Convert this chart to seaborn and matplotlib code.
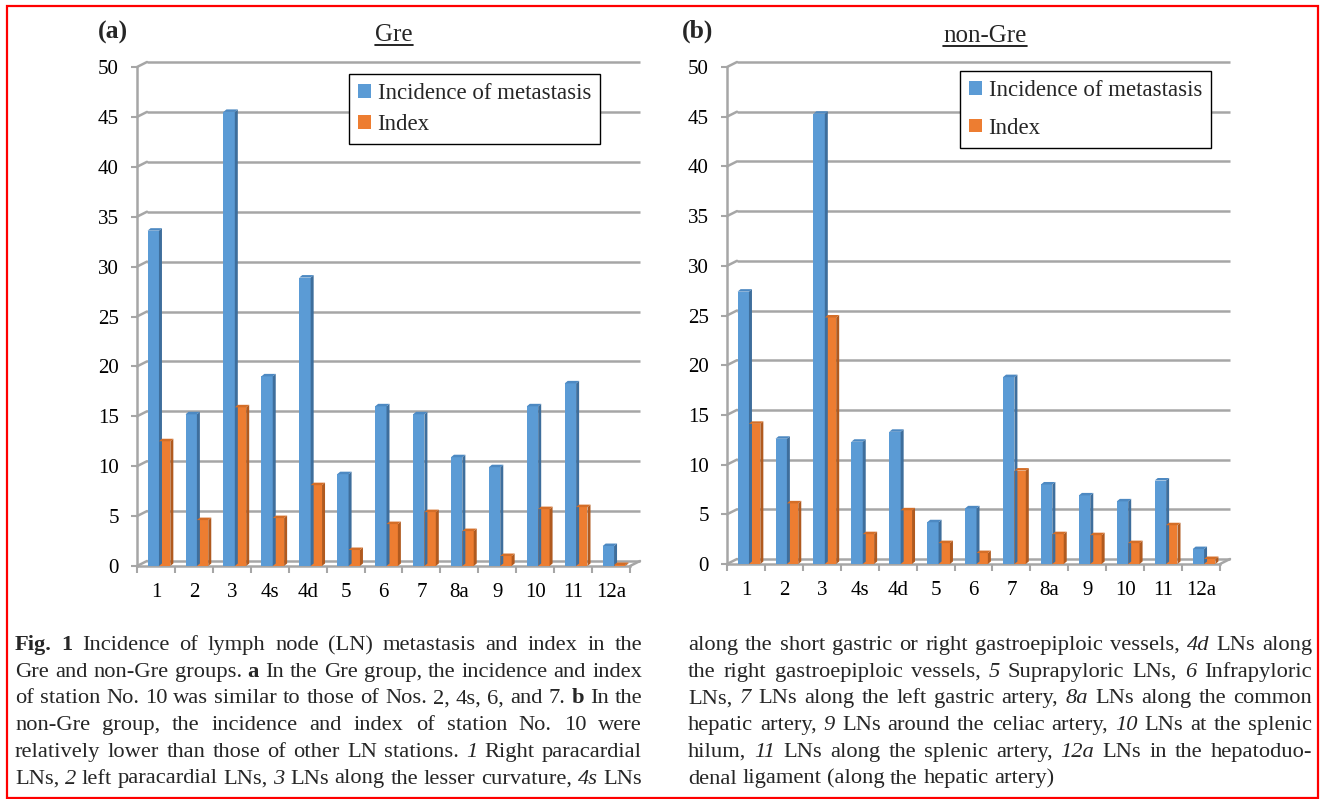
import numpy as np
import pandas as pd
import matplotlib
matplotlib.use("Agg")
import matplotlib.pyplot as plt
import seaborn as sns
from matplotlib.patches import Polygon, Rectangle, Patch
from matplotlib.lines import Line2D

# ---------------- data ----------------
stations = ["1", "2", "3", "4s", "4d", "5", "6", "7", "8a", "9", "10", "11", "12a"]
series_names = ["Incidence of metastasis", "Index"]
gre_incidence = [33.6, 15.2, 45.5, 19.0, 28.9, 9.2, 16.0, 15.2, 10.9, 9.9, 16.0, 18.3, 2.0]
gre_index = [12.5, 4.6, 15.9, 4.8, 8.1, 1.6, 4.2, 5.4, 3.5, 1.0, 5.7, 5.9, 0.1]
nongre_incidence = [27.4, 12.6, 45.3, 12.3, 13.3, 4.2, 5.6, 18.8, 8.0, 6.9, 6.3, 8.4, 1.5]
nongre_index = [14.1, 6.1, 24.8, 3.0, 5.4, 2.1, 1.1, 9.4, 3.0, 2.9, 2.1, 3.9, 0.5]
yticks = [0, 5, 10, 15, 20, 25, 30, 35, 40, 45, 50]
panel_letters = ["(a)", "(b)"]
panel_titles = ["Gre", "non-Gre"]

caption_left = [
    "*Fig.* *1* Incidence of lymph node (LN) metastasis and index in the",
    "Gre and non-Gre groups. *a* In the Gre group, the incidence and index",
    "of station No. 10 was similar to those of Nos. 2, 4s, 6, and 7. *b* In the",
    "non-Gre group, the incidence and index of station No. 10 were",
    "relatively lower than those of other LN stations. _1_ Right paracardial",
    "LNs, _2_ left paracardial LNs, _3_ LNs along the lesser curvature, _4s_ LNs",
]
caption_right = [
    "along the short gastric or right gastroepiploic vessels, _4d_ LNs along",
    "the right gastroepiploic vessels, _5_ Suprapyloric LNs, _6_ Infrapyloric",
    "LNs, _7_ LNs along the left gastric artery, _8a_ LNs along the common",
    "hepatic artery, _9_ LNs around the celiac artery, _10_ LNs at the splenic",
    "hilum, _11_ LNs along the splenic artery, _12a_ LNs in the hepatoduo-",
    "denal ligament (along the hepatic artery)",
]

# ---------------- style ----------------
sns.set_style("white")
plt.rcParams["font.family"] = ["Liberation Serif", "DejaVu Serif"]

BLUE, ORANGE = "#5B9BD5", "#ED7D31"
SIDE = ["#3E6E9C", "#B05A1F"]
TOP = ["#4D89C2", "#D46E28"]
GRAY = "#A6A6A6"

W, H = 1321, 799
fig = plt.figure(figsize=(W / 100, H / 100), dpi=100)


def px_axes(left, top, right, bottom):
    return fig.add_axes([left / W, 1 - bottom / H, (right - left) / W, (bottom - top) / H])


axes = [px_axes(137, 67, 630, 566), px_axes(727, 67, 1220, 564)]
data = [(gre_incidence, gre_index), (nongre_incidence, nongre_index)]
legend_pos = [(349, 74), (960, 71)]
legend_ls = [0.42, 0.72]

for k, ax in enumerate(axes):
    inc, idx = data[k]
    df = pd.DataFrame({
        "station": stations * 2,
        "value": list(inc) + list(idx),
        "series": [series_names[0]] * len(stations) + [series_names[1]] * len(stations),
    })
    sns.barplot(data=df, x="station", y="value", hue="series", order=stations,
                hue_order=series_names, palette=[BLUE, ORANGE], width=0.6,
                saturation=1, ax=ax, legend=False, linewidth=0, zorder=3)
    ax.set_xlim(-0.5, len(stations) - 0.5)
    ax.set_ylim(0, 50)
    ax.set_xlabel("")
    ax.set_ylabel("")

    bb = ax.get_position()
    wpx, hpx = bb.width * W, bb.height * H
    ux = (len(stations)) / wpx      # data units per px (x)
    uy = 50.0 / hpx                 # data units per px (y)

    # 3D-like faces on bars
    shift = 3 * ux
    d, dd = 3 * ux, 2.5 * uy
    for ci, cont in enumerate(ax.containers):
        for p in cont.patches:
            p.set_x(p.get_x() + shift)
            x, w, h = p.get_x(), p.get_width(), p.get_height()
            ax.add_patch(Polygon([(x + w, 0), (x + w + d, dd), (x + w + d, h + dd), (x + w, h)],
                                 closed=True, facecolor=SIDE[ci], edgecolor="none", zorder=3))
            ax.add_patch(Polygon([(x, h), (x + w, h), (x + w + d, h + dd), (x + d, h + dd)],
                                 closed=True, facecolor=TOP[ci], edgecolor="none", zorder=3))

    # back-wall gridlines with perspective connectors
    bx, by = 10 / wpx, 5 * uy
    tr = ax.get_yaxis_transform()
    for v in yticks:
        ax.plot([bx, 1 + bx], [v + by, v + by], transform=tr, color=GRAY, lw=1.8,
                clip_on=False, zorder=1, solid_capstyle="butt")
        ax.plot([0, bx], [v, v + by], transform=tr, color=GRAY, lw=1.8,
                clip_on=False, zorder=1)
    ax.plot([1, 1 + bx], [0, by], transform=tr, color=GRAY, lw=1.8, clip_on=False, zorder=1)

    for s in ["top", "right"]:
        ax.spines[s].set_visible(False)
    for s in ["left", "bottom"]:
        ax.spines[s].set_color(GRAY)
        ax.spines[s].set_linewidth(1.8)
    ax.grid(False)

    ax.set_yticks(yticks)
    ax.set_yticklabels([str(v) for v in yticks])
    ax.tick_params(axis="y", length=4, width=1.5, color=GRAY, pad=9,
                   labelsize=15, labelcolor="black", left=True)
    ax.set_xticks(range(len(stations)))
    ax.set_xticklabels(stations)
    ax.tick_params(axis="x", which="major", length=0, pad=12, labelsize=15,
                   labelcolor="black")
    ax.set_xticks(np.arange(-0.5, len(stations), 1), minor=True)
    ax.tick_params(axis="x", which="minor", length=5, width=1.5, color=GRAY, bottom=True)

    handles = [Patch(facecolor=BLUE, edgecolor="none"), Patch(facecolor=ORANGE, edgecolor="none")]
    lx, ly = legend_pos[k]
    leg = ax.legend(handles, series_names, loc="upper left",
                    bbox_to_anchor=(lx / W, 1 - ly / H), bbox_transform=fig.transFigure,
                    borderaxespad=0, frameon=True, fancybox=False, framealpha=1,
                    edgecolor="black", fontsize=16.5, handlelength=0.55,
                    handleheight=0.55, handletextpad=0.3, labelspacing=legend_ls[k],
                    borderpad=0.4)
    leg.get_frame().set_linewidth(1.0)
    leg.set_zorder(10)

# panel letters and titles
letter_pos = [(98, 39), (682, 38)]
title_pos = [(394, 41), (985, 42)]
title_texts = []
for k in range(2):
    fig.text(letter_pos[k][0] / W, 1 - letter_pos[k][1] / H, panel_letters[k],
             fontsize=18.5, fontweight="bold", ha="left", va="baseline")
    t = fig.text(title_pos[k][0] / W, 1 - title_pos[k][1] / H, panel_titles[k],
                 fontsize=18, ha="center", va="baseline")
    title_texts.append(t)

# border
fig.add_artist(Rectangle((7 / W, 1 - 798 / H), (1318 - 7) / W, (798 - 6) / H,
                         transform=fig.transFigure, fill=False, edgecolor="red", lw=1.6))

fig.canvas.draw()
renderer = fig.canvas.get_renderer()

for k, t in enumerate(title_texts):
    e = t.get_window_extent(renderer=renderer)
    yline = 1 - (title_pos[k][1] + 3.5) / H
    fig.add_artist(Line2D([e.x0 / W, e.x1 / W], [yline, yline], transform=fig.transFigure,
                          color="black", lw=1.2))


# ---------------- justified caption ----------------
def parse(line):
    out = []
    for tok in line.split(" "):
        if not tok:
            continue
        if tok.startswith("*") and tok.endswith("*") and len(tok) > 2:
            out.append((tok[1:-1], "bold", "normal"))
        elif tok.startswith("_") and tok.endswith("_") and len(tok) > 2:
            out.append((tok[1:-1], "normal", "italic"))
        else:
            out.append((tok, "normal", "normal"))
    return out


def measure(word, weight, style, size):
    t = fig.text(0, 0, word, fontsize=size, fontweight=weight, fontstyle=style)
    w = t.get_window_extent(renderer=renderer).width
    t.remove()
    return w


def natural_width(ln, size):
    sp = 0.25 * size * 100 / 72
    toks = parse(ln)
    return sum(measure(w, a, b, size) for w, a, b in toks) + sp * (len(toks) - 1)


cols = [(caption_left, 15, 642, False), (caption_right, 688, 1312, True)]
base_size = 14.5
ratios = []
for lines, x0, x1, has_last in cols:
    just = lines[:-1] if has_last else lines
    for ln in just:
        ratios.append((x1 - x0) * 0.995 / natural_width(ln, base_size))
size = base_size * min(ratios)

baselines = [650 + i * 26.7 for i in range(6)]
for lines, x0, x1, has_last in cols:
    for i, ln in enumerate(lines):
        toks = parse(ln)
        widths = [measure(w, a, b, size) for w, a, b in toks]
        last = has_last and i == len(lines) - 1
        if last or len(toks) == 1:
            gap = 0.25 * size * 100 / 72
        else:
            gap = ((x1 - x0) - sum(widths)) / (len(toks) - 1)
        x = x0
        for (w, a, b), wd in zip(toks, widths):
            fig.text(x / W, 1 - baselines[i] / H, w, fontsize=size, fontweight=a,
                     fontstyle=b, ha="left", va="baseline")
            x += wd + gap

fig.savefig("out.png", dpi=100)
